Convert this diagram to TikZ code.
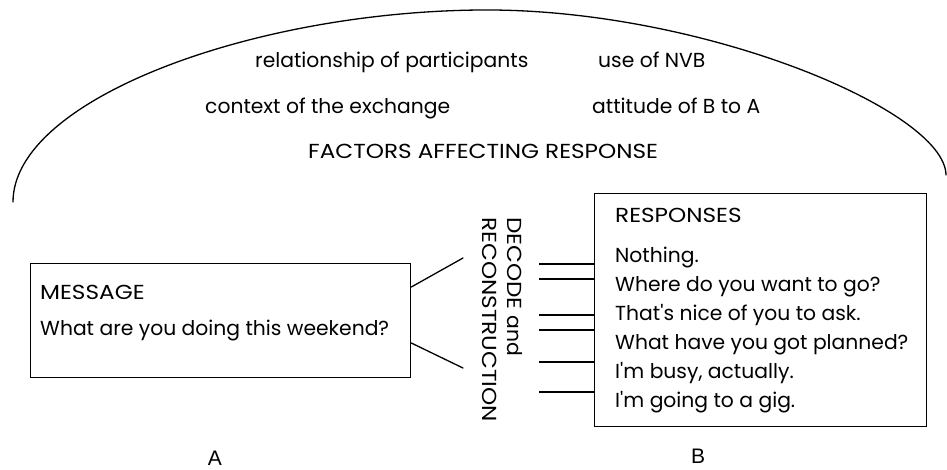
\documentclass[tikz,border=0pt]{standalone}
\usepackage{fontspec}
\setmainfont[Ligatures=TeXOff]{Poppins}
\newfontfamily\capsfont[FakeStretch=1.14]{Poppins}
\newfontfamily\labfont{Liberation Sans}
\begin{document}
\begin{tikzpicture}[x=1pt,y=-1pt,
  ln/.style={line width=1.3pt, line cap=round},
  box/.style={draw, line width=1.3pt, rectangle, inner sep=0pt, anchor=north west},
  txt/.style={inner sep=0pt, anchor=base west, font=\fontsize{20.3}{24}\selectfont},
  captxt/.style={inner sep=0pt, anchor=base west, font=\capsfont\fontsize{20.3}{24}\selectfont},
  lab/.style={inner sep=0pt, anchor=base, font=\labfont\fontsize{21}{25}\selectfont}]
\useasboundingbox (0,0) rectangle (947,469);
% arc
\draw[ln] (13,202) .. controls (13,100) and (250,12) .. (480,10)
  .. controls (700,8) and (945,110) .. (946,175);
% factors
\node[txt] (rel) at (255,67) {relationship of participants};
\node[txt] (nvb) at (598,67) {use of NVB};
\node[txt] (ctx) at (205,113) {context of the exchange};
\node[txt] (att) at (592,113) {attitude of B to A};
\node[captxt] (fac) at (308,158) {FACTORS AFFECTING RESPONSE};
% message box
\node[box, minimum width=380pt, minimum height=114pt] (msg) at (30,263) {};
\node[captxt] (msgt) at (40,299) {MESSAGE};
\node[txt] (msgq) at (40,335) {What are you doing this weekend?};
\coordinate (m1) at (463,258);
\coordinate (m2) at (463,368);
\draw[ln] (msg.north east |- 0,287) -- (m1);
\draw[ln] (msg.north east |- 0,343) -- (m2);
% decode
\node[captxt, rotate=-90] (dec1) at (507,217) {DECODE {\fontspec{Poppins}and}};
\node[captxt, rotate=-90] (dec2) at (482,217) {RECONSTRUCTION};
% responses box
\node[box, minimum width=332pt, minimum height=233pt] (resp) at (594,193) {};
\node[captxt] (rh) at (615,222) {RESPONSES};
\node[txt] (r1) at (615,262) {Nothing.};
\node[txt] (r2) at (615,291) {Where do you want to go?};
\node[txt] (r3) at (615,320) {That's nice of you to ask.};
\node[txt] (r4) at (615,349) {What have you got planned?};
\node[txt] (r5) at (615,378) {I'm busy, actually.};
\node[txt] (r6) at (615,407) {I'm going to a gig.};
\foreach \yy/\nm in {264/a,279/b,315/c,330/d,362/e,392/f}{
  \coordinate (l\nm) at (539,\yy);
  \draw[ln, line cap=butt] (l\nm) -- (resp.north west |- l\nm);
}
% labels
\node[lab] (A) at (215,465) {A};
\node[lab] (B) at (698,463) {B};
\end{tikzpicture}
\end{document}
